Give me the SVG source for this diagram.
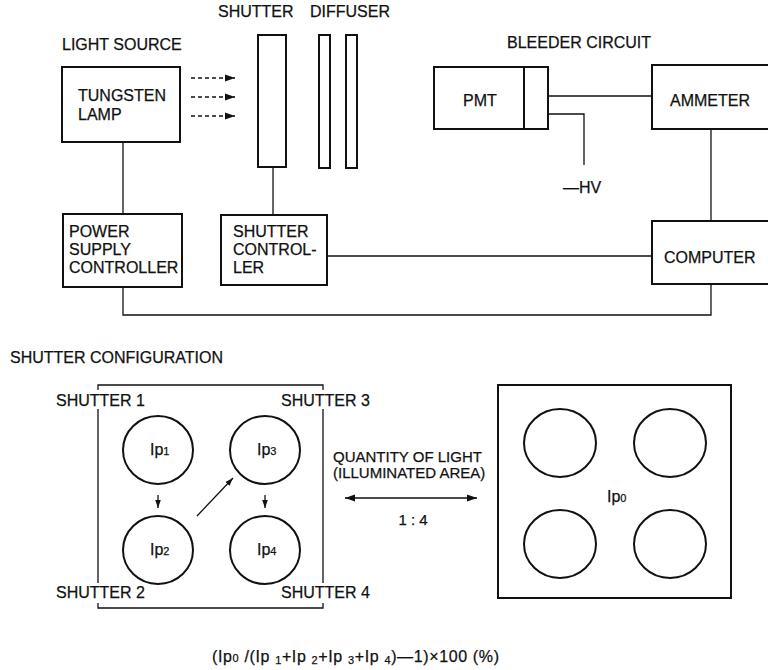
<svg xmlns="http://www.w3.org/2000/svg" width="768" height="670" viewBox="0 0 768 670">
<defs>
<marker id="ah" viewBox="0 0 10 10" refX="10" refY="5" markerWidth="10" markerHeight="10" markerUnits="userSpaceOnUse" orient="auto-start-reverse">
<path d="M0,1.5 L10,5 L0,8.5 Z" fill="#111"/>
</marker>
<marker id="ahs" viewBox="0 0 10 10" refX="10" refY="5" markerWidth="8" markerHeight="8" markerUnits="userSpaceOnUse" orient="auto-start-reverse">
<path d="M0,1.5 L10,5 L0,8.5 Z" fill="#111"/>
</marker>
</defs>
<style>
text{font-family:"Liberation Sans",Arial,sans-serif;font-size:16px;fill:#111;stroke:#111;stroke-width:0.25}
.box{fill:#fff;stroke:#111;stroke-width:2}
.ln{fill:none;stroke:#111;stroke-width:1.3}
.c{fill:none;stroke:#111;stroke-width:2}
.m{font-size:15px}
.sub{font-size:11px}
</style>
<rect width="768" height="670" fill="#fff"/>

<g id="labels">
<text x="218" y="17" font-size="15.5">SHUTTER</text>
<text x="310" y="17" font-size="15.5">DIFFUSER</text>
<text x="62" y="50">LIGHT SOURCE</text>
<text x="507" y="48">BLEEDER CIRCUIT</text>
<text x="563" y="193">—HV</text>
</g>

<g id="connectors">
<line class="ln" x1="123" y1="142" x2="123" y2="214"/>
<line class="ln" x1="273" y1="167" x2="273" y2="215"/>
<line class="ln" x1="327" y1="256" x2="652" y2="256"/>
<line class="ln" x1="548" y1="96" x2="652" y2="96"/>
<polyline class="ln" points="548,114 584,114 584,165"/>
<line class="ln" x1="711" y1="129" x2="711" y2="221"/>
<polyline class="ln" points="711,284 711,315 123,315 123,287"/>
<g stroke="#111" stroke-width="1.3" stroke-dasharray="4,3" marker-end="url(#ah)">
<line x1="191" y1="78" x2="235" y2="78"/>
<line x1="191" y1="97" x2="235" y2="97"/>
<line x1="191" y1="116" x2="235" y2="116"/>
</g>
</g>

<g id="lamp">
<rect class="box" x="62" y="67" width="118" height="75"/>
<text x="78" y="101">TUNGSTEN</text>
<text x="78" y="120">LAMP</text>
</g>
<g id="shutter">
<rect class="box" x="258" y="35" width="28" height="132"/>
</g>
<g id="diffuser">
<rect class="box" x="319" y="35" width="11" height="133"/>
<rect class="box" x="346" y="35" width="11" height="133"/>
</g>
<g id="pmt">
<rect class="box" x="434" y="67" width="114" height="62"/>
<line x1="524" y1="67" x2="524" y2="129" stroke="#111" stroke-width="2"/>
<text x="463" y="106">PMT</text>
</g>
<g id="ammeter">
<rect class="box" x="652" y="65" width="120" height="64"/>
<text x="670" y="106">AMMETER</text>
</g>
<g id="power">
<rect class="box" x="63" y="214" width="119" height="73"/>
<text x="69" y="237">POWER</text>
<text x="69" y="255">SUPPLY</text>
<text x="69" y="273">CONTROLLER</text>
</g>
<g id="shutterctrl">
<rect class="box" x="221" y="215" width="106" height="70"/>
<text x="233" y="237">SHUTTER</text>
<text x="233" y="255">CONTROL-</text>
<text x="233" y="273">LER</text>
</g>
<g id="computer">
<rect class="box" x="652" y="221" width="120" height="63"/>
<text x="664" y="263">COMPUTER</text>
</g>

<text x="10" y="363" font-size="18.5">SHUTTER CONFIGURATION</text>

<g id="config-left">
<polyline class="ln" stroke-width="1.6" points="98,390 98,385 323,385 323,390"/>
<polyline class="ln" stroke-width="1.6" points="98,603 98,608 323,608 323,603"/>
<line class="ln" stroke-width="1.6" x1="98" y1="409" x2="98" y2="583"/>
<line class="ln" stroke-width="1.6" x1="323" y1="409" x2="323" y2="583"/>
<text x="56" y="406">SHUTTER 1</text>
<text x="281" y="406">SHUTTER 3</text>
<text x="56" y="598">SHUTTER 2</text>
<text x="281" y="598">SHUTTER 4</text>
<ellipse class="c" cx="158" cy="450" rx="35" ry="34"/>
<ellipse class="c" cx="265" cy="450" rx="35" ry="34"/>
<ellipse class="c" cx="158" cy="550" rx="35" ry="34"/>
<ellipse class="c" cx="265" cy="550" rx="35" ry="34"/>
<text x="150" y="455">Ip<tspan class="sub">1</tspan></text>
<text x="257" y="455">Ip<tspan class="sub">3</tspan></text>
<text x="150" y="555">Ip<tspan class="sub">2</tspan></text>
<text x="257" y="555">Ip<tspan class="sub">4</tspan></text>
<line class="ln" x1="158" y1="495" x2="158" y2="508" marker-end="url(#ahs)"/>
<line class="ln" x1="265" y1="495" x2="265" y2="508" marker-end="url(#ahs)"/>
<line class="ln" x1="197" y1="516" x2="233" y2="478" marker-end="url(#ahs)"/>
</g>

<g id="ratio">
<text class="m" x="333" y="462">QUANTITY OF LIGHT</text>
<text class="m" x="333" y="478">(ILLUMINATED AREA)</text>
<line class="ln" x1="345" y1="498" x2="477" y2="498" marker-start="url(#ah)" marker-end="url(#ah)"/>
<text class="m" x="413" y="525" text-anchor="middle">1 : 4</text>
</g>

<g id="config-right">
<rect class="box" x="498" y="385" width="233" height="213"/>
<ellipse class="c" cx="560" cy="443" rx="36" ry="34"/>
<ellipse class="c" cx="670" cy="443" rx="36" ry="34"/>
<ellipse class="c" cx="560" cy="544" rx="36" ry="34"/>
<ellipse class="c" cx="670" cy="544" rx="36" ry="34"/>
<text x="607" y="502">Ip<tspan class="sub">0</tspan></text>
</g>

<text x="212" y="662" font-size="16" textLength="287" lengthAdjust="spacing">(Ip<tspan class="sub" font-size="12">0</tspan> /(Ip <tspan class="sub" dy="2">1</tspan><tspan dy="-2">+Ip </tspan><tspan class="sub" dy="2">2</tspan><tspan dy="-2">+Ip </tspan><tspan class="sub" dy="2">3</tspan><tspan dy="-2">+Ip </tspan><tspan class="sub" dy="2">4</tspan><tspan dy="-2">)—1)×100 (%)</tspan></text>
</svg>
